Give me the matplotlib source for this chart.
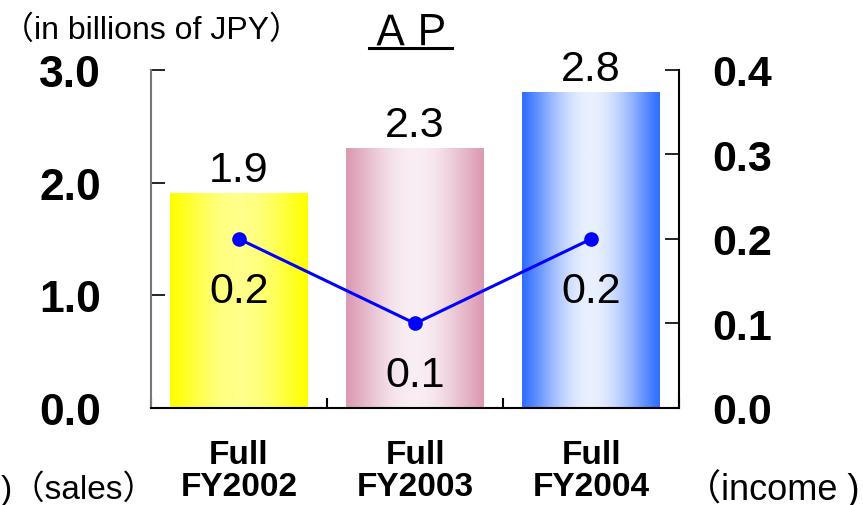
import numpy as np
import matplotlib
matplotlib.use("Agg")
import matplotlib.pyplot as plt
from matplotlib.colors import LinearSegmentedColormap
from matplotlib.lines import Line2D

plt.rcParams['font.family'] = ['Liberation Sans', 'Noto Sans CJK JP', 'DejaVu Sans']

periods = ['Full\nFY2002', 'Full\nFY2003', 'Full\nFY2004']
sales = [1.9, 2.3, 2.8]      # billions of JPY, left axis
income = [0.2, 0.1, 0.2]     # billions of JPY, right axis

# edge colour, centre colour for each bar's horizontal gradient
bar_shades = [('#FFFF00', '#FFFF8A'),
              ('#DB9AB3', '#F9EEF3'),
              ('#2F6EFF', '#E9F0FF')]

fig = plt.figure(figsize=(8.63, 5.06), dpi=100)
ax = fig.add_axes([0.175, 0.1917, 0.612, 0.668])
x = np.arange(len(periods))

bars = ax.bar(x, sales, width=0.78, color='none', edgecolor='none', zorder=2)
prof = np.linspace(0, 1, 256)
prof = np.sin(np.pi * prof) ** 1.2
for b, (edge, centre) in zip(bars, bar_shades):
    cmap = LinearSegmentedColormap.from_list('shade', [edge, centre])
    x0, w, h = b.get_x(), b.get_width(), b.get_height()
    ax.imshow(prof[np.newaxis, :], cmap=cmap, vmin=0, vmax=1, aspect='auto',
              extent=[x0, x0 + w, 0, h], zorder=1, interpolation='bicubic')
    ax.annotate(f'{h:.1f}', (b.get_x() + w / 2, h), xytext=(0, 2.5),
                textcoords='offset points', ha='center', va='bottom',
                fontsize=31)

ax.set_xlim(-0.5, len(periods) - 0.5)
ax.set_ylim(0, 3.0)
ax.set_yticks([0, 1, 2, 3])
ax.set_yticklabels(['0.0', '1.0', '2.0', '3.0'], fontsize=32, fontweight='bold')
ax.set_xticks(x)
ax.set_xticklabels(periods, fontsize=24, fontweight='bold', linespacing=1.05)
ax.set_xticks(np.arange(len(periods) + 1) - 0.5, minor=True)
ax.tick_params(axis='x', which='major', length=0, pad=22)
ax.tick_params(axis='x', which='minor', direction='in', length=7, width=1.5)
ax.tick_params(axis='y', direction='in', length=10, width=1.2, pad=36)
ax.spines['top'].set_visible(False)
ax.spines['left'].set_color('#777777')
ax.spines['left'].set_linewidth(1.5)
ax.spines['bottom'].set_linewidth(1.5)
ax.spines['right'].set_visible(False)

ax2 = ax.twinx()
ax2.set_ylim(0, 0.4)
ax2.set_yticks([0, 0.1, 0.2, 0.3, 0.4])
ax2.set_yticklabels(['0.0', '0.1', '0.2', '0.3', '0.4'], fontsize=31, fontweight='bold')
ax2.tick_params(axis='y', direction='in', length=10, width=1.2, pad=24)
for s in ['top', 'left', 'bottom']:
    ax2.spines[s].set_visible(False)
ax2.spines['right'].set_linewidth(1.5)
ax2.plot(x, income, color='#0000FF', lw=2.2, marker='o', markersize=9.5, zorder=3)
for xi, v in zip(x, income):
    ax2.annotate(f'{v:.1f}', (xi, v), xytext=(0, -23), textcoords='offset points',
                 ha='center', va='top', fontsize=31)

fig.text(0.002, 0.94, '（in billions of JPY）', fontsize=23, ha='left', va='center')
fig.text(0.001, 0.035, ')（sales）', fontsize=24, ha='left', va='center')
fig.text(0.996, 0.035, '（income )', fontsize=26, ha='right', va='center')

title = fig.text(0.476, 0.935, 'ＡＰ', fontsize=30, ha='center', va='center',
                 family=['Noto Sans CJK JP'])
fig.canvas.draw()
tb = title.get_window_extent().transformed(fig.transFigure.inverted())
fig.add_artist(Line2D([tb.x0, tb.x1], [0.903, 0.903], color='black', lw=2.2))

fig.savefig('out.png', dpi=100)
